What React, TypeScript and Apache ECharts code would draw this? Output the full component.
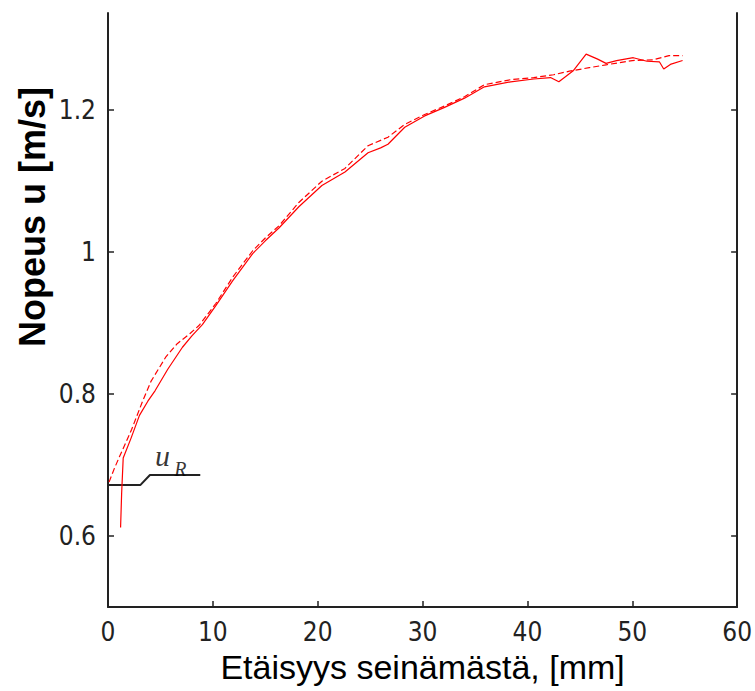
import React, { useEffect, useRef } from "react";
import * as echarts from "echarts";

const xTicks = [0, 10, 20, 30, 40, 50, 60];
const yTicks = [0.6, 0.8, 1.0, 1.2];

const solidX = [1.2, 1.3, 1.45, 2.2, 3.0, 3.8, 4.5, 5.7, 7.1, 8.0, 9.0, 10.3, 11.9, 13.8, 15.0, 16.3, 18.2, 20.4, 22.6, 24.8, 26.0, 26.7, 28.3, 30.2, 32.1, 34.0, 35.9, 38.4, 40.6, 42.2, 43.0, 44.4, 45.6, 46.7, 47.5, 48.5, 50.1, 51.4, 52.6, 53.0, 53.7, 54.8];
const solidY = [0.612, 0.66, 0.71, 0.738, 0.77, 0.79, 0.805, 0.835, 0.866, 0.882, 0.898, 0.925, 0.96, 0.998, 1.016, 1.034, 1.064, 1.094, 1.113, 1.14, 1.147, 1.152, 1.176, 1.192, 1.204, 1.217, 1.233, 1.24, 1.244, 1.246, 1.24, 1.256, 1.279, 1.272, 1.266, 1.27, 1.274, 1.269, 1.268, 1.258, 1.265, 1.27];

const dashedX = [0.1, 0.6, 1.1, 2.25, 3.3, 4.1, 5.5, 6.6, 7.8, 8.7, 10.3, 11.9, 13.8, 15.0, 16.3, 18.2, 20.4, 22.6, 24.8, 26.7, 28.3, 30.2, 32.1, 34.0, 35.9, 38.4, 40.6, 42.5, 44.0, 45.9, 47.5, 50.0, 52.0, 53.5, 54.8];
const dashedY = [0.676, 0.695, 0.712, 0.75, 0.79, 0.818, 0.852, 0.871, 0.885, 0.897, 0.928, 0.965, 1.002, 1.02, 1.037, 1.07, 1.1, 1.118, 1.15, 1.162, 1.18, 1.194, 1.206, 1.219, 1.236, 1.243, 1.246, 1.25, 1.255, 1.26, 1.264, 1.27, 1.271, 1.277, 1.277];

const uRLineX = [0, 3.1, 4.0, 8.8];
const uRLineY = [0.672, 0.672, 0.686, 0.686];
const uRLabelU = [5.2, 0.713];
const uRLabelR = [6.9, 0.695];

const tickFont = "'Liberation Sans Narrow', 'DejaVu Sans Condensed', 'Liberation Sans', sans-serif";

export default function App() {
  const ref = useRef<HTMLDivElement>(null);
  useEffect(() => {
    if (!ref.current) return;
    const chart = echarts.init(ref.current, null, { renderer: "svg" });
    const axisLine = { show: true, lineStyle: { color: "#222", width: 2 } };
    const option = {
      animation: false,
      backgroundColor: "#fff",
      grid: { left: 108, right: 14, top: 13, bottom: 84, containLabel: false },
      xAxis: {
        type: "value",
        min: 0,
        max: 60,
        interval: 10,
        axisLine: { ...axisLine, onZero: false },
        axisTick: { show: true, inside: true, length: 6, lineStyle: { color: "#222", width: 1.5 } },
        axisLabel: { margin: 12, fontSize: 26, color: "#222", fontFamily: tickFont },
        splitLine: { show: false },
        name: "Etäisyys seinämästä, [mm]",
        nameLocation: "middle",
        nameGap: 38,
        nameTextStyle: { fontSize: 34, color: "#000", fontFamily: "'Liberation Sans', Arial, sans-serif", verticalAlign: "top" },
      },
      yAxis: [
        {
          type: "value",
          min: 0.5,
          max: 1.337,
          axisLine: { ...axisLine, onZero: false },
          axisTick: { show: true, inside: true, length: 6, customValues: yTicks, lineStyle: { color: "#222", width: 1.5 } },
          axisLabel: { margin: 12, fontSize: 26, color: "#222", fontFamily: tickFont, customValues: yTicks },
          splitLine: { show: false },
        },
        {
          type: "value",
          min: 0.5,
          max: 1.337,
          position: "right",
          axisLine: { ...axisLine, onZero: false },
          axisTick: { show: true, inside: true, length: 6, customValues: yTicks, lineStyle: { color: "#222", width: 1.5 } },
          axisLabel: { show: false },
          splitLine: { show: false },
        },
      ],
      graphic: [
        {
          type: "text",
          x: 32,
          y: 217,
          rotation: Math.PI / 2,
          style: {
            text: "Nopeus u [m/s]",
            fontSize: 36,
            fontWeight: "bold",
            fontFamily: "'Liberation Sans', Arial, sans-serif",
            fill: "#000",
            textAlign: "center",
            textVerticalAlign: "middle",
          },
        },
      ],
      series: [
        {
          type: "line",
          data: solidX.map((x, i) => [x, solidY[i]]),
          showSymbol: false,
          symbol: "none",
          lineStyle: { color: "#ff0000", width: 1.2 },
          z: 3,
        },
        {
          type: "line",
          data: dashedX.map((x, i) => [x, dashedY[i]]),
          showSymbol: false,
          symbol: "none",
          lineStyle: { color: "#ff0000", width: 1.2, type: [6, 3] },
          z: 3,
        },
        {
          type: "line",
          data: uRLineX.map((x, i) => [x, uRLineY[i]]),
          showSymbol: false,
          symbol: "none",
          lineStyle: { color: "#222", width: 2 },
          z: 2,
        },
        {
          type: "scatter",
          symbolSize: 0,
          data: [uRLabelU],
          label: {
            show: true,
            position: "inside",
            formatter: "u",
            fontSize: 30,
            fontStyle: "italic",
            fontFamily: "'Liberation Serif', serif",
            color: "#000",
          },
        },
        {
          type: "scatter",
          symbolSize: 0,
          data: [uRLabelR],
          label: {
            show: true,
            position: "inside",
            formatter: "R",
            fontSize: 20,
            fontStyle: "italic",
            fontFamily: "'Liberation Serif', serif",
            color: "#000",
          },
        },
      ],
    };
    chart.setOption(option as any);
    return () => chart.dispose();
  }, []);
  return (
    <div
      ref={ref}
      style={{ position: "absolute", left: 0, top: 0, width: 755, height: 691 }}
    />
  );
}
